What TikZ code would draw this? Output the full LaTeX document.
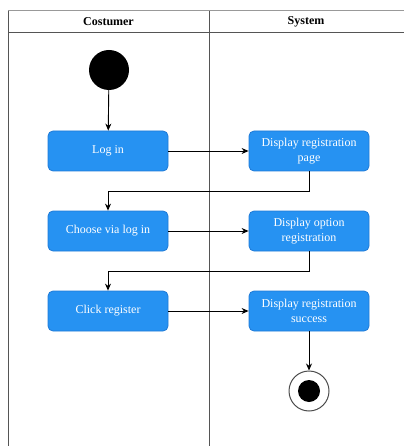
\documentclass[tikz,border=0pt]{standalone}
\usepackage{fontspec}
\setmainfont{Liberation Serif}
\usetikzlibrary{arrows.meta}
\definecolor{actblue}{HTML}{2692F2}
\definecolor{actedge}{HTML}{1F7AD6}
\definecolor{lanegray}{HTML}{555555}
\tikzset{
  action/.style={draw=actedge, line width=0.8pt, fill=actblue, rounded corners=5pt,
    minimum width=120pt, minimum height=40pt, align=center,
    text=white, font=\fontsize{12}{15}\selectfont, inner sep=0pt},
  flow/.style={draw=black, line width=0.9pt, -{Stealth[length=7pt,width=6pt]}},
  lane/.style={draw=lanegray, line width=1pt},
  lanehead/.style={font=\bfseries\fontsize{12}{14}\selectfont}
}
\begin{document}
\begin{tikzpicture}[x=1pt,y=-1pt]
\useasboundingbox (0,0) rectangle (404,446);
% swimlane frame
\draw[draw=black!40, line width=1pt] (8,11) -- (404,11);
\draw[lane] (8,33) -- (404,33);
\draw[lane] (8,11) -- (8,446);
\draw[lane] (209,11) -- (209,446);
\node[lanehead] (hc) at (108.5,22) {Costumer};
\node[lanehead] (hs) at (306,22) {System};
% start and end
\node[circle, fill=black, minimum size=40pt, inner sep=0pt] (start) at (109,70) {};
\node[circle, draw=black!70, line width=1pt, fill=white, minimum size=40pt, inner sep=0pt] (end) at (309,391) {};
\node[circle, fill=black, minimum size=22pt, inner sep=0pt] (endin) at (309,391) {};
% actions
\node[action] (login) at (108,151) {Log in};
\node[action] (dpage) at (309,151) {Display registration\\page};
\node[action] (choose) at (108,231) {Choose via log in};
\node[action] (dopt) at (309,231) {Display option\\registration};
\node[action] (click) at (108,311) {Click register};
\node[action] (dsucc) at (309,311) {Display registration\\success};
% flows
\draw[flow] (start) -- (login);
\draw[flow] (login) -- (dpage);
\draw[flow] (dpage.south) |- (108,191) -- (choose.north);
\draw[flow] (choose) -- (dopt);
\draw[flow] (dopt.south) |- (108,271) -- (click.north);
\draw[flow] (click) -- (dsucc);
\draw[flow] (dsucc) -- (end);
\end{tikzpicture}
\end{document}
